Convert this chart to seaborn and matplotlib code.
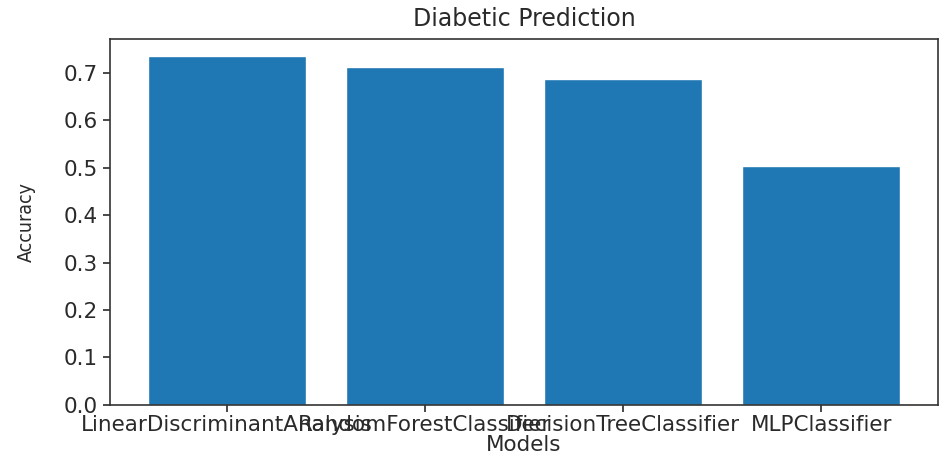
import matplotlib
matplotlib.use("Agg")
import matplotlib.pyplot as plt
import seaborn as sns
import pandas as pd

models = ["LinearDiscriminantAnalysis", "RandomForestClassifier",
          "DecisionTreeClassifier", "MLPClassifier"]
accuracy = [0.735, 0.713, 0.688, 0.503]

df = pd.DataFrame({"Models": models, "Accuracy": accuracy})

sns.set_style("ticks")
plt.rcParams["font.family"] = ["DejaVu Sans"]
text_color = "#2a2a2a"

fig = plt.figure(figsize=(9.4, 4.57), dpi=100)
ax = fig.add_axes([0.117, 0.114, 0.881, 0.801])

sns.barplot(data=df, x="Models", y="Accuracy", color="#1f77b4",
            saturation=1, width=0.8, ax=ax)

ax.set_xlim(-0.59, 3.59)
ax.set_ylim(0, 0.772)
ax.set_yticks([0.0, 0.1, 0.2, 0.3, 0.4, 0.5, 0.6, 0.7])
ax.set_yticklabels([f"{v:.1f}" for v in ax.get_yticks()])

for s in ax.spines.values():
    s.set_visible(True)
    s.set_color("#333333")
    s.set_linewidth(1.2)

ax.tick_params(axis="both", labelsize=15.5, colors=text_color, length=5, width=1.2,
               pad=4)
ax.tick_params(axis="x", pad=2)
ax.set_title("Diabetic Prediction", fontsize=17, color=text_color, pad=9)
ax.set_xlabel("Models", fontsize=15.5, color=text_color, labelpad=0)
ax.set_ylabel("Accuracy", fontsize=14, color=text_color, fontstretch="condensed")
ax.yaxis.set_label_coords(-0.09, 0.5)

fig.savefig("out.png", dpi=100)
